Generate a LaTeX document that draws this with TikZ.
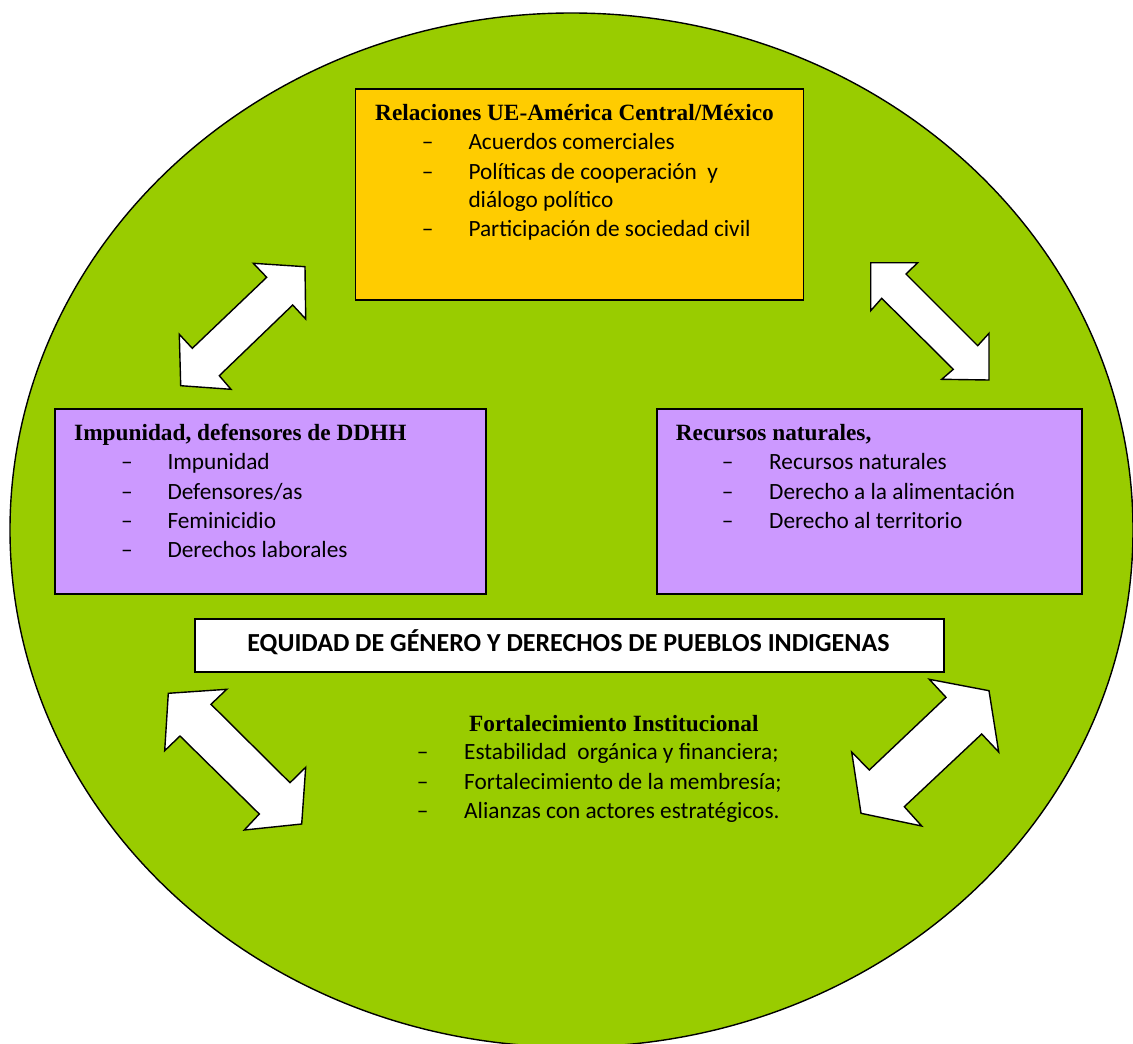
\documentclass[tikz,border=0pt]{standalone}
\usepackage{fontspec}
\setmainfont{Carlito}
\newfontfamily\titlefont{Liberation Serif}
\definecolor{greenbg}{HTML}{99CC00}
\definecolor{orangebox}{HTML}{FFCC00}
\definecolor{purplebox}{HTML}{CC99FF}
\tikzset{
  box/.style={draw=black, line width=1.6pt, rectangle, inner sep=0pt, anchor=north west},
  ttl/.style={inner sep=0pt, anchor=base west, font=\titlefont\bfseries\fontsize{23.3}{28}\selectfont},
  itm/.style={inner sep=0pt, anchor=base west, font=\fontsize{23.3}{28}\selectfont},
  eqtxt/.style={inner sep=0pt, anchor=base, font=\bfseries\fontsize{26}{31}\selectfont},
  blockarrow/.style={draw=black, fill=white, line width=1.4pt, line join=miter}
}
\begin{document}
\begin{tikzpicture}[x=1pt,y=-1pt]
\useasboundingbox (0,0) rectangle (1133,1044);
% background ellipse
\draw[fill=greenbg, line width=1.4pt] (571.5,530) ellipse [x radius=561.5, y radius=517];

% boxes
\node[box, fill=orangebox, minimum width=448pt, minimum height=211pt] (rel) at (354.5,88) {};
\node[box, fill=purplebox, minimum width=431pt, minimum height=185pt] (imp) at (54,408) {};
\node[box, fill=purplebox, minimum width=425pt, minimum height=185pt] (rec) at (656,408) {};
\node[box, fill=white, minimum width=749pt, minimum height=53pt] (eq) at (194,618) {};

% block arrows
\draw[blockarrow] (305,266.7) -- (305.7,319) -- (292.7,305) -- (219.3,375.7) -- (231,389.3) -- (180.7,385.7) -- (179.3,334.3) -- (192.3,348.3) -- (266.7,277.3) -- (253.3,263.3) -- cycle;
\draw[blockarrow] (870.7,262.7) -- (917.7,262.7) -- (906,274) -- (977.7,345.7) -- (989,333.3) -- (989,380) -- (941.7,379.3) -- (953.3,369.3) -- (881.7,298.3) -- (870.7,310.7) -- cycle;
\draw[blockarrow] (168.3,693.3) -- (226.7,689.3) -- (211,704.3) -- (290,782.7) -- (305.7,767.3) -- (301.7,824) -- (244.3,830) -- (259.3,814) -- (180,736) -- (164.7,750.7) -- cycle;
\draw[blockarrow] (989,690.7) -- (998.7,752) -- (981.7,734) -- (904.3,806.7) -- (921.7,826) -- (861,813.3) -- (851.7,752) -- (869.3,770) -- (946,697.3) -- (929.3,679.3) -- cycle;

% top box text
\node[ttl] (relT) at (375,120.7) {Relaciones UE-América Central/México};
\node[itm] (relD1) at (421.7,149) {–};
\node[itm] (relD2) at (421.7,179) {–};
\node[itm] (relD3) at (421.7,236.7) {–};
\node[itm] (rel1) at (468.3,149) {Acuerdos comerciales};
\node[itm] (rel2) at (468.3,179) {Políticas de cooperación\ \ y};
\node[itm] (rel3) at (468.3,207.7) {diálogo político};
\node[itm] (rel4) at (468.3,236.7) {Participación de sociedad civil};

% left box text
\node[ttl] (impT) at (74,440.7) {Impunidad, defensores de DDHH};
\node[itm] (impD1) at (121,469.3) {–};
\node[itm] (impD2) at (121,499) {–};
\node[itm] (impD3) at (121,528.3) {–};
\node[itm] (impD4) at (121,557.3) {–};
\node[itm] (imp1) at (167.3,469.3) {Impunidad};
\node[itm] (imp2) at (167.3,499) {Defensores/as};
\node[itm] (imp3) at (167.3,528.3) {Feminicidio};
\node[itm] (imp4) at (167.3,557.3) {Derechos laborales};

% right box text
\node[ttl] (recT) at (675.7,440.7) {Recursos naturales,};
\node[itm] (recD1) at (721.7,469.3) {–};
\node[itm] (recD2) at (721.7,499) {–};
\node[itm] (recD3) at (721.7,528.3) {–};
\node[itm] (rec1) at (769,469.3) {Recursos naturales};
\node[itm] (rec2) at (769,499) {Derecho a la alimentación};
\node[itm] (rec3) at (769,528.3) {Derecho al territorio};

% white box text
\node[eqtxt] (eqT) at (568.5,651.7) {EQUIDAD DE GÉNERO Y DERECHOS DE PUEBLOS INDIGENAS};

% bottom text
\node[ttl] (forT) at (469,731.7) {Fortalecimiento Institucional};
\node[itm] (forD1) at (416.7,759.3) {–};
\node[itm] (forD2) at (416.7,789) {–};
\node[itm] (forD3) at (416.7,818.3) {–};
\node[itm] (for1) at (464,759.3) {Estabilidad\ \ orgánica y financiera;};
\node[itm] (for2) at (464,789) {Fortalecimiento de la membresía;};
\node[itm] (for3) at (464,818.3) {Alianzas con actores estratégicos.};
\end{tikzpicture}
\end{document}
